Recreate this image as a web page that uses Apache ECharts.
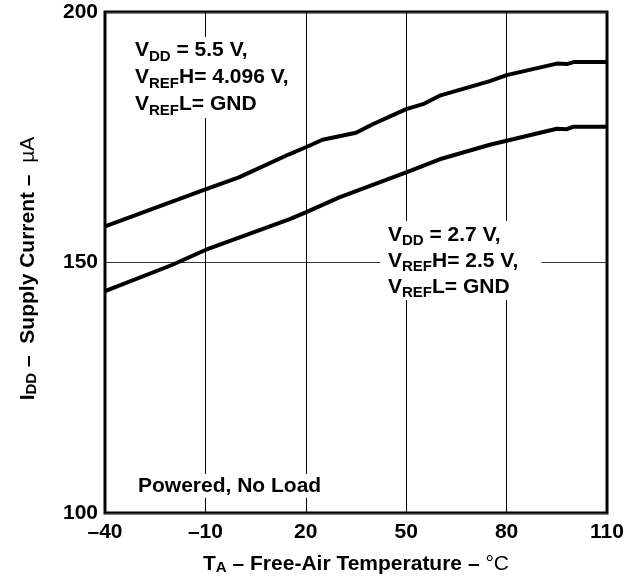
<!DOCTYPE html>
<html><head><meta charset="utf-8">
<script src="https://cdn.jsdelivr.net/npm/echarts@6/dist/echarts.min.js"></script>
<style>html,body{margin:0;padding:0;background:#fff}#c{width:630px;height:582px}</style>
</head><body><div id="c"></div>
<script>
// ---- data ----
const T_MIN = -40;            // axis origin (°C)
const T_MAX = 110;
const T_STEP = 30;
const I_MIN = 100, I_MAX = 200, I_STEP = 50;

const upperTemp    = [-40, -10, 0, 15, 20, 25, 35, 40, 50, 55, 60, 75, 80, 95, 98, 100, 110];
const upperCurrent = [157.2, 164.6, 167.0, 171.6, 173.0, 174.5, 175.9, 177.6, 180.6, 181.6, 183.3, 186.2, 187.4, 189.7, 189.6, 190.0, 190.0];

const lowerTemp    = [-40, -20, -10, 15, 20, 30, 50, 60, 75, 80, 95, 98, 100, 110];
const lowerCurrent = [144.3, 149.5, 152.5, 158.6, 160.0, 163.0, 168.0, 170.6, 173.5, 174.3, 176.7, 176.6, 177.1, 177.1];

// ---- chart ----
const FONT = '"Liberation Sans", Arial, Helvetica, sans-serif';
const minus = v => String(v).replace('-', '\u2013');

function rich(size, sub, lh) {
  return {
    b: {fontSize: size, fontWeight: 'bold', fontFamily: FONT, lineHeight: lh, color: '#000', fill: '#000'},
    s: {fontSize: sub, fontWeight: 'bold', fontFamily: FONT, lineHeight: sub, verticalAlign: 'bottom', color: '#000', fill: '#000'},
    n: {fontSize: size, fontWeight: 'normal', fontFamily: FONT, lineHeight: lh, color: '#000', fill: '#000'}
  };
}

const chart = echarts.init(document.getElementById('c'), null, {renderer: 'canvas'});
chart.setOption({
  animation: false,
  backgroundColor: '#fff',
  grid: {left: 105, right: 23, top: 12, bottom: 69, show: true, borderColor: '#000', borderWidth: 3, backgroundColor: 'transparent'},
  xAxis: {
    type: 'value', min: 0, max: T_MAX - T_MIN, interval: T_STEP,
    axisLine: {show: false}, axisTick: {show: false},
    splitLine: {show: true, lineStyle: {color: '#000', width: 1}},
    axisLabel: {formatter: v => minus(v + T_MIN), fontSize: 21, fontWeight: 'bold', fontFamily: FONT, color: '#000', margin: 9},
    name: '{b|T}{s|A}{b| \u2013 Free-Air Temperature \u2013 }{n|\u00B0C}',
    nameLocation: 'middle', nameGap: 40,
    nameTextStyle: {rich: rich(21, 15, 22)}
  },
  yAxis: {
    type: 'value', min: I_MIN, max: I_MAX, interval: I_STEP,
    axisLine: {show: false}, axisTick: {show: false},
    splitLine: {show: true, lineStyle: {color: '#333', width: 1}},
    axisLabel: {fontSize: 21, fontWeight: 'bold', fontFamily: FONT, color: '#000', margin: 7},
    name: '{b|I}{s|DD}{b| \u2013  Supply Current \u2013  }{n|\u00B5A}',
    nameLocation: 'middle', nameGap: 66, nameRotate: 90,
    nameTextStyle: {rich: rich(21, 15, 22), padding: [0, 12, 0, 0]}
  },
  series: [
    {type: 'line', data: upperTemp.map((t, i) => [t - T_MIN, upperCurrent[i]]), showSymbol: false, symbol: 'none',
     lineStyle: {color: '#000', width: 4}, z: 5},
    {type: 'line', data: lowerTemp.map((t, i) => [t - T_MIN, lowerCurrent[i]]), showSymbol: false, symbol: 'none',
     lineStyle: {color: '#000', width: 4}, z: 5}
  ],
  graphic: [
    {type: 'text', left: 131, top: 37, z: 10,
     style: {text: '{b|V}{s|DD}{b| = 5.5 V,}\n{b|V}{s|REF}{b|H= 4.096 V,}\n{b|V}{s|REF}{b|L= GND}', rich: rich(21, 15, 27),
             backgroundColor: '#fff', padding: [0, 6, 0, 4]}},
    {type: 'text', left: 380, top: 221, z: 10,
     style: {text: '{b|V}{s|DD}{b| = 2.7 V,}\n{b|V}{s|REF}{b|H= 2.5 V,}\n{b|V}{s|REF}{b|L= GND}', rich: rich(21, 15, 26),
             backgroundColor: '#fff', padding: [1, 23, 0, 8]}},
    {type: 'text', left: 130, top: 474, z: 10,
     style: {text: '{b|Powered, No Load}', rich: rich(21, 15, 24), backgroundColor: '#fff', padding: [0, 6, 0, 8]}}
  ]
});
</script></body></html>
